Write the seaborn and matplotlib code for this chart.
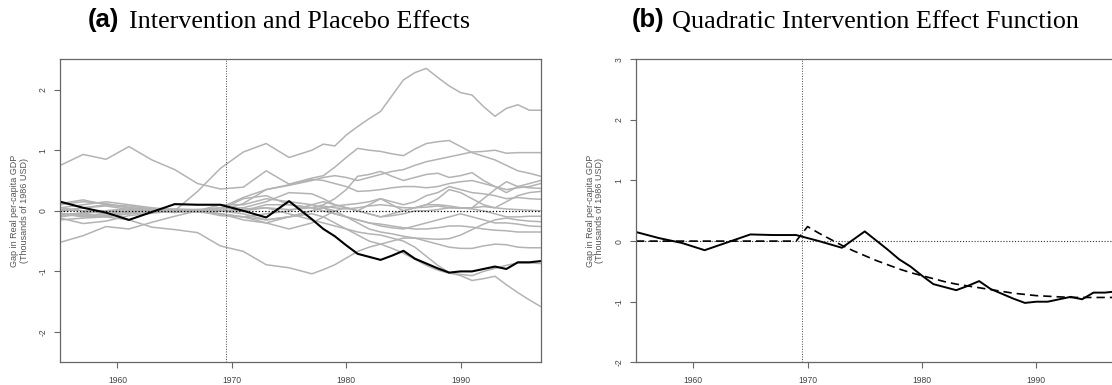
import pandas as pd
import seaborn as sns
import matplotlib.pyplot as plt

# year grid (biennial early on, annual later)
years = [1955, 1957, 1959, 1961, 1963, 1965, 1967, 1969, 1971, 1973, 1975, 1977,
         1978, 1979, 1980, 1981, 1982, 1983, 1984, 1985, 1986, 1987, 1988, 1989,
         1990, 1991, 1992, 1993, 1994, 1995, 1996, 1997]

basque_gap = [0.15, 0.05, -0.03, -0.15, -0.02, 0.11, 0.10, 0.10, 0.0, -0.11, 0.16, -0.14,
              -0.30, -0.42, -0.57, -0.71, -0.76, -0.81, -0.74, -0.66, -0.79, -0.87, -0.95, -1.02,
              -1.00, -1.00, -0.96, -0.92, -0.96, -0.85, -0.85, -0.83]

# placebo gaps, one list per control region
placebo_01 = [-0.05, -0.08, -0.05, -0.03, 0.0, 0.0, 0.32, 0.70, 0.97, 1.11, 0.88, 1.0,
              1.10, 1.07, 1.25, 1.39, 1.52, 1.64, 1.90, 2.16, 2.28, 2.35, 2.20, 2.06,
              1.95, 1.91, 1.72, 1.56, 1.69, 1.75, 1.66, 1.66]
placebo_02 = [0.75, 0.93, 0.85, 1.06, 0.84, 0.68, 0.45, 0.36, 0.39, 0.66, 0.44, 0.54,
              0.58, 0.72, 0.88, 1.03, 1.00, 0.98, 0.94, 0.91, 1.02, 1.11, 1.14, 1.16,
              1.06, 0.96, 0.90, 0.84, 0.75, 0.66, 0.62, 0.57]
placebo_03 = [0.10, 0.15, 0.12, 0.05, 0.03, 0.02, 0.0, 0.05, 0.22, 0.35, 0.42, 0.50,
              0.55, 0.58, 0.55, 0.50, 0.55, 0.60, 0.65, 0.68, 0.75, 0.81, 0.85, 0.89,
              0.93, 0.97, 0.98, 1.00, 0.95, 0.96, 0.96, 0.96]
placebo_04 = [0.05, 0.10, 0.15, 0.10, 0.05, 0.02, 0.0, 0.02, 0.20, 0.25, 0.10, 0.05,
              0.10, 0.20, 0.35, 0.57, 0.60, 0.65, 0.57, 0.50, 0.55, 0.60, 0.62, 0.55,
              0.58, 0.63, 0.50, 0.40, 0.30, 0.40, 0.45, 0.50]
placebo_05 = [-0.10, -0.05, 0.0, 0.02, 0.0, 0.0, 0.0, 0.0, 0.12, 0.35, 0.43, 0.52,
              0.50, 0.45, 0.40, 0.32, 0.33, 0.35, 0.38, 0.40, 0.40, 0.38, 0.40, 0.45,
              0.48, 0.50, 0.45, 0.40, 0.35, 0.38, 0.40, 0.45]
placebo_06 = [0.0, 0.05, 0.08, 0.02, 0.0, -0.02, 0.0, -0.05, -0.10, -0.05, 0.0, 0.10,
              0.15, 0.10, 0.05, 0.0, 0.10, 0.20, 0.10, 0.0, 0.05, 0.10, 0.10, 0.08,
              0.05, 0.05, 0.20, 0.35, 0.48, 0.40, 0.38, 0.37]
placebo_07 = [0.05, 0.0, -0.05, 0.0, 0.02, 0.03, 0.02, 0.05, 0.05, 0.15, 0.30, 0.28,
              0.20, 0.10, 0.05, 0.0, -0.05, -0.10, -0.05, 0.0, 0.05, 0.10, 0.20, 0.35,
              0.30, 0.20, 0.10, 0.05, 0.15, 0.25, 0.30, 0.32]
placebo_08 = [-0.15, -0.12, -0.10, -0.05, 0.0, 0.0, 0.02, 0.0, -0.05, -0.15, -0.10, 0.0,
              0.05, 0.08, 0.10, 0.12, 0.15, 0.20, 0.15, 0.10, 0.15, 0.25, 0.30, 0.40,
              0.35, 0.30, 0.28, 0.25, 0.20, 0.22, 0.20, 0.19]
placebo_09 = [0.02, 0.0, 0.0, -0.02, 0.0, 0.01, 0.0, 0.0, 0.03, 0.05, 0.02, 0.05,
              0.08, 0.05, 0.03, 0.05, 0.08, 0.10, 0.08, 0.05, 0.05, 0.06, 0.08, 0.05,
              0.04, 0.05, 0.07, 0.05, 0.03, 0.02, 0.01, 0.0]
placebo_10 = [-0.05, -0.10, -0.08, -0.05, -0.02, 0.0, -0.02, -0.05, -0.10, -0.20, -0.30, -0.20,
              -0.10, 0.0, 0.05, 0.0, -0.05, -0.10, -0.08, -0.05, 0.0, 0.0, 0.02, 0.05,
              0.05, 0.03, 0.0, -0.05, -0.10, -0.10, -0.09, -0.09]
placebo_11 = [-0.12, -0.21, -0.17, -0.08, -0.04, 0.0, 0.02, 0.0, 0.0, 0.10, 0.10, 0.05,
              0.0, -0.05, -0.10, -0.15, -0.20, -0.25, -0.28, -0.30, -0.25, -0.20, -0.15, -0.10,
              -0.05, -0.10, -0.15, -0.20, -0.20, -0.22, -0.25, -0.26]
placebo_12 = [0.12, 0.18, 0.10, 0.05, 0.0, 0.02, 0.0, 0.10, 0.10, 0.20, 0.15, 0.10,
              0.05, -0.05, -0.10, -0.15, -0.20, -0.22, -0.25, -0.28, -0.30, -0.30, -0.28, -0.25,
              -0.25, -0.27, -0.30, -0.32, -0.33, -0.35, -0.35, -0.35]
placebo_13 = [-0.05, -0.05, -0.10, -0.15, -0.27, -0.31, -0.36, -0.58, -0.67, -0.89, -0.94, -1.04,
              -0.97, -0.89, -0.78, -0.67, -0.60, -0.55, -0.50, -0.45, -0.45, -0.46, -0.47, -0.46,
              -0.40, -0.31, -0.22, -0.15, -0.12, -0.15, -0.17, -0.18]
placebo_14 = [-0.08, -0.03, 0.0, 0.03, 0.0, -0.03, 0.0, -0.08, -0.10, -0.15, -0.10, -0.05,
              -0.10, -0.20, -0.30, -0.40, -0.50, -0.55, -0.62, -0.70, -0.80, -0.90, -0.98, -1.03,
              -1.05, -1.07, -1.00, -0.95, -0.90, -0.86, -0.86, -0.87]
placebo_15 = [-0.02, 0.05, 0.10, 0.08, 0.03, 0.0, -0.02, 0.0, 0.0, 0.05, -0.05, -0.15,
              -0.20, -0.25, -0.30, -0.35, -0.38, -0.40, -0.45, -0.50, -0.60, -0.75, -0.90, -1.02,
              -1.07, -1.15, -1.12, -1.08, -1.22, -1.35, -1.47, -1.58]
placebo_16 = [-0.52, -0.41, -0.26, -0.30, -0.19, -0.09, 0.0, -0.05, -0.15, -0.20, -0.10, 0.0,
              0.05, 0.0, -0.10, -0.20, -0.30, -0.35, -0.38, -0.42, -0.45, -0.50, -0.55, -0.60,
              -0.62, -0.62, -0.58, -0.55, -0.56, -0.60, -0.61, -0.61]

# fitted quadratic intervention effect (zero before 1970)
fit_years = [1955, 1969, 1970, 1971, 1972, 1973, 1974, 1975, 1976, 1977, 1978, 1979, 1980,
             1981, 1982, 1983, 1984, 1985, 1986, 1987, 1988, 1989, 1990, 1991, 1992,
             1993, 1994, 1995, 1996, 1997]
fit_gap = [0.0, 0.0, 0.24, 0.13, 0.03, -0.07, -0.16, -0.24, -0.32, -0.39, -0.46, -0.52, -0.57,
           -0.62, -0.67, -0.71, -0.74, -0.77, -0.80, -0.83, -0.86, -0.88, -0.90, -0.91, -0.92,
           -0.93, -0.93, -0.93, -0.93, -0.93]

placebos = [placebo_01, placebo_02, placebo_03, placebo_04, placebo_05, placebo_06,
            placebo_07, placebo_08, placebo_09, placebo_10, placebo_11, placebo_12,
            placebo_13, placebo_14, placebo_15, placebo_16]

rows = []
for i, series in enumerate(placebos):
    for yr, g in zip(years, series):
        rows.append({"region": i, "year": yr, "gap": g})
df_placebo = pd.DataFrame(rows)
df_basque = pd.DataFrame({"year": years, "gap": basque_gap})
df_fit = pd.DataFrame({"year": fit_years, "gap": fit_gap})

sns.set_theme(style="ticks")
plt.rcParams["font.family"] = ["Liberation Sans", "DejaVu Sans"]
plt.rcParams["axes.unicode_minus"] = False

W, H = 1112, 385
fig = plt.figure(figsize=(W / 100, H / 100), dpi=100)
ax1 = fig.add_axes([60.3 / W, 22.7 / H, 480.4 / W, 303 / H])
ax2 = fig.add_axes([636 / W, 22.7 / H, 480.4 / W, 303 / H])

dot = (0, (1, 1.6))

# (a) placebo lines + treated unit
sns.lineplot(data=df_placebo, x="year", y="gap", units="region", estimator=None,
             color="#b3b3b3", lw=1.1, ax=ax1, legend=False)
ax1.axhline(0, color="black", ls=dot, lw=0.9)
ax1.axvline(1969.5, color="#444444", ls=dot, lw=0.7)
sns.lineplot(data=df_basque, x="year", y="gap", color="black", lw=1.5, ax=ax1)

# (b) treated unit + quadratic fit
ax2.axhline(0, color="#333333", ls=dot, lw=0.8)
ax2.axvline(1969.5, color="#444444", ls=dot, lw=0.7)
sns.lineplot(data=df_basque, x="year", y="gap", color="black", lw=1.4, ax=ax2)
sns.lineplot(data=df_fit, x="year", y="gap", color="black", lw=1.2,
             ls=(0, (5, 3)), ax=ax2)


def style_axes(ax, ylim, yticks):
    ax.set_xlim(1955, 1997)
    ax.set_ylim(*ylim)
    ax.set_xticks([1960, 1970, 1980, 1990])
    ax.set_yticks(yticks)
    ax.set_xlabel("")
    ax.set_ylabel("")
    ax.tick_params(direction="out", length=4, width=0.8, color="#666666",
                   labelsize=6.2, labelcolor="#444444")
    ax.tick_params(axis="x", pad=6)
    ax.tick_params(axis="y", pad=5, labelrotation=90)
    for lbl in ax.get_yticklabels():
        lbl.set_va("center")
    for sp in ax.spines.values():
        sp.set_visible(True)
        sp.set_color("#666666")
        sp.set_linewidth(0.9)


style_axes(ax1, (-2.5, 2.5), [-2, -1, 0, 1, 2])
style_axes(ax2, (-2, 3), [-2, -1, 0, 1, 2, 3])

ylab = "Gap in Real per-capita GDP\n(Thousands of 1986 USD)"
fig.text(19.5 / W, 1 - 210.8 / H, ylab, rotation=90, ha="center", va="center",
         fontsize=6.5, color="#555555", linespacing=1.05)
fig.text(595 / W, 1 - 210.8 / H, ylab, rotation=90, ha="center", va="center",
         fontsize=6.5, color="#555555", linespacing=1.05)

# panel titles: bold sans letter followed by serif text
renderer = fig.canvas.get_renderer()
ty = 1 - 27.5 / H


def panel_title(x_px, letter, text, gap_px):
    t = fig.text(x_px / W, ty, letter, fontsize=18.5, fontweight="bold",
                 color="black", ha="left", va="baseline")
    right = t.get_window_extent(renderer).x1
    fig.text((right + gap_px) / W, ty, text, fontsize=18.8, color="black",
             family=["Liberation Serif", "DejaVu Serif"], ha="left", va="baseline")


panel_title(88.2, "(a)", "Intervention and Placebo Effects", 9)
panel_title(631.7, "(b)", "Quadratic Intervention Effect Function", 8)

fig.savefig("out.png", dpi=100)
